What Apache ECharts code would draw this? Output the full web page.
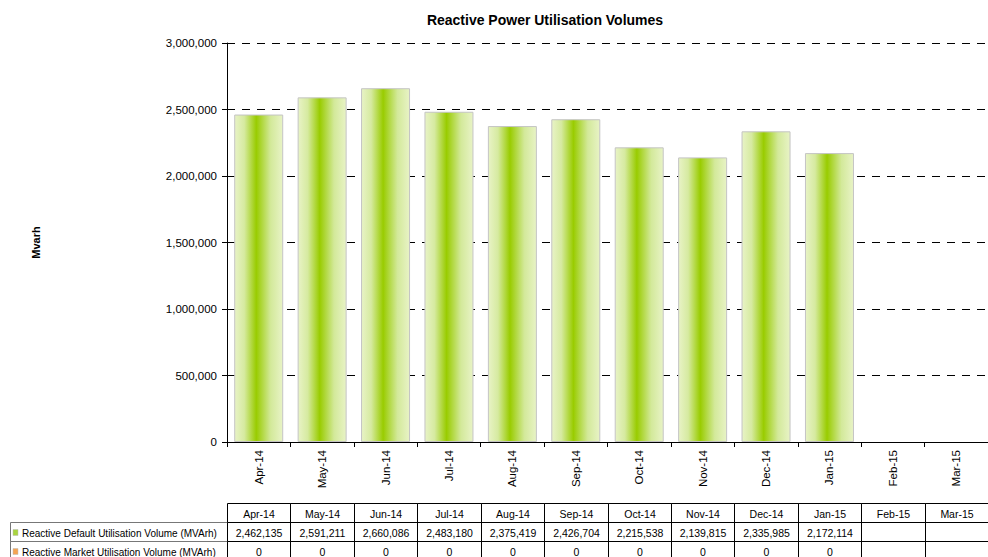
<!DOCTYPE html>
<html>
<head>
<meta charset="utf-8">
<title>Reactive Power Utilisation Volumes</title>
<script src="https://cdn.jsdelivr.net/npm/echarts@6/dist/echarts.min.js"></script>
<style>
  html, body { margin: 0; padding: 0; background: #fff; }
  #chart { width: 988px; height: 557px; }
</style>
</head>
<body>
<div id="chart"></div>
<script>
// data
const months = ["Apr-14", "May-14", "Jun-14", "Jul-14", "Aug-14", "Sep-14",
  "Oct-14", "Nov-14", "Dec-14", "Jan-15", "Feb-15", "Mar-15"];
const defaultVolume = [2462135, 2591211, 2660086, 2483180, 2375419, 2426704,
  2215538, 2139815, 2335985, 2172114, null, null];
const marketVolume = [0, 0, 0, 0, 0, 0, 0, 0, 0, 0, null, null];
const seriesNames = ["Reactive Default Utilisation Volume (MVArh)",
  "Reactive Market Utilisation Volume (MVArh)"];
const yTicks = [0, 500000, 1000000, 1500000, 2000000, 2500000, 3000000];

const FONT = "Liberation Sans, Arial, sans-serif";
const fmt = v => (v === null || v === undefined) ? "" : v.toLocaleString("en-US");

const chart = echarts.init(document.getElementById("chart"), null, { renderer: "svg" });

const barGradient = new echarts.graphic.LinearGradient(0, 0, 1, 0, [
  { offset: 0, color: "#e8f3c6" },
  { offset: 0.2, color: "#d6eaa0" },
  { offset: 0.45, color: "#99cc00" },
  { offset: 0.75, color: "#d3e99a" },
  { offset: 1, color: "#e8f3c6" },
]);

const option = {
  backgroundColor: "#fff",
  animation: false,
  title: {
    text: "Reactive Power Utilisation Volumes",
    left: 540,
    textAlign: "center",
    top: 8,
    textStyle: { fontFamily: FONT, fontSize: 14, fontWeight: "bold", color: "#000" },
  },
  grid: { left: 227, right: 0, top: 43, bottom: 115 },
  xAxis: {
    type: "category",
    data: months,
    axisLine: { lineStyle: { color: "#000", width: 1 } },
    axisTick: { show: true, length: 5, lineStyle: { color: "#000" } },
    axisLabel: {
      rotate: 90,
      interval: 0,
      margin: 8,
      fontFamily: FONT,
      fontSize: 11.5,
      color: "#000",
    },
  },
  yAxis: {
    type: "value",
    min: yTicks[0],
    max: yTicks[yTicks.length - 1],
    interval: yTicks[1] - yTicks[0],
    name: "Mvarh",
    nameLocation: "middle",
    nameGap: 186,
    nameTextStyle: { fontFamily: FONT, fontSize: 11, fontWeight: "bold", color: "#000" },
    axisLine: { show: true, lineStyle: { color: "#000", width: 1 } },
    axisTick: { show: true, length: 5, lineStyle: { color: "#000" } },
    axisLabel: {
      margin: 10,
      fontFamily: FONT,
      fontSize: 11.5,
      color: "#000",
      formatter: v => fmt(v),
    },
    splitLine: { lineStyle: { color: "#000", type: [8, 7], width: 1 } },
  },
  series: [
    {
      name: seriesNames[0],
      type: "bar",
      stack: "vol",
      data: defaultVolume,
      barWidth: 49,
      itemStyle: { color: barGradient, borderColor: "#c4c4c4", borderWidth: 1 },
    },
    {
      name: seriesNames[1],
      type: "bar",
      stack: "vol",
      data: marketVolume,
      barWidth: 49,
      itemStyle: { color: "#f5a452", borderWidth: 0 },
    },
  ],
};

chart.setOption(option);

// data table under the chart, columns aligned to the category axis
function buildTable() {
  const els = [];
  const c0 = chart.convertToPixel({ xAxisIndex: 0 }, 0);
  const c1 = chart.convertToPixel({ xAxisIndex: 0 }, 1);
  const colW = c1 - c0;
  const rowTop = [503, 522, 541];
  const rowH = 19;
  const labelLeft = 10;
  const firstCol = Math.round(c0 - colW / 2) + 0.5;
  const crisp = v => Math.round(v) + 0.5;

  const cellText = (x, y, text, align, size) => ({
    type: "text",
    x: x,
    y: y,
    style: {
      text: text,
      fontFamily: FONT,
      fontSize: size || 10.5,
      fill: "#000",
      align: align || "center",
      verticalAlign: "middle",
    },
  });

  // header row
  months.forEach((m, i) => {
    const x = crisp(c0 - colW / 2 + i * colW);
    const w = crisp(c0 - colW / 2 + (i + 1) * colW) - x;
    els.push({ type: "rect", shape: { x: x, y: rowTop[0] + 0.5, width: w, height: rowH },
      style: { fill: "none", stroke: "#000", lineWidth: 1 } });
    els.push(cellText(x + w / 2, rowTop[0] + rowH / 2 + 1, m));
  });

  // value rows
  const rows = [defaultVolume, marketVolume];
  const swatch = ["#a9d43f", "#f5a452"];
  rows.forEach((vals, r) => {
    const y = rowTop[r + 1] + 0.5;
    els.push({ type: "rect", shape: { x: labelLeft + 0.5, y: y, width: firstCol - labelLeft - 0.5, height: rowH },
      style: { fill: "none", stroke: "#777", lineWidth: 1 } });
    els.push({ type: "rect", shape: { x: 13, y: y + 7, width: 5, height: 6 },
      style: { fill: swatch[r], stroke: "#bbb", lineWidth: 0.5 } });
    els.push(cellText(22, y + rowH / 2 + 1, seriesNames[r], "left", 10));
    vals.forEach((v, i) => {
      const x = crisp(c0 - colW / 2 + i * colW);
      const w = crisp(c0 - colW / 2 + (i + 1) * colW) - x;
      els.push({ type: "rect", shape: { x: x, y: y, width: w, height: rowH },
        style: { fill: "none", stroke: "#000", lineWidth: 1 } });
      els.push(cellText(x + w / 2, y + rowH / 2 + 1, fmt(v)));
    });
  });
  chart.setOption({ graphic: { elements: els } });
}

buildTable();
</script>
</body>
</html>
